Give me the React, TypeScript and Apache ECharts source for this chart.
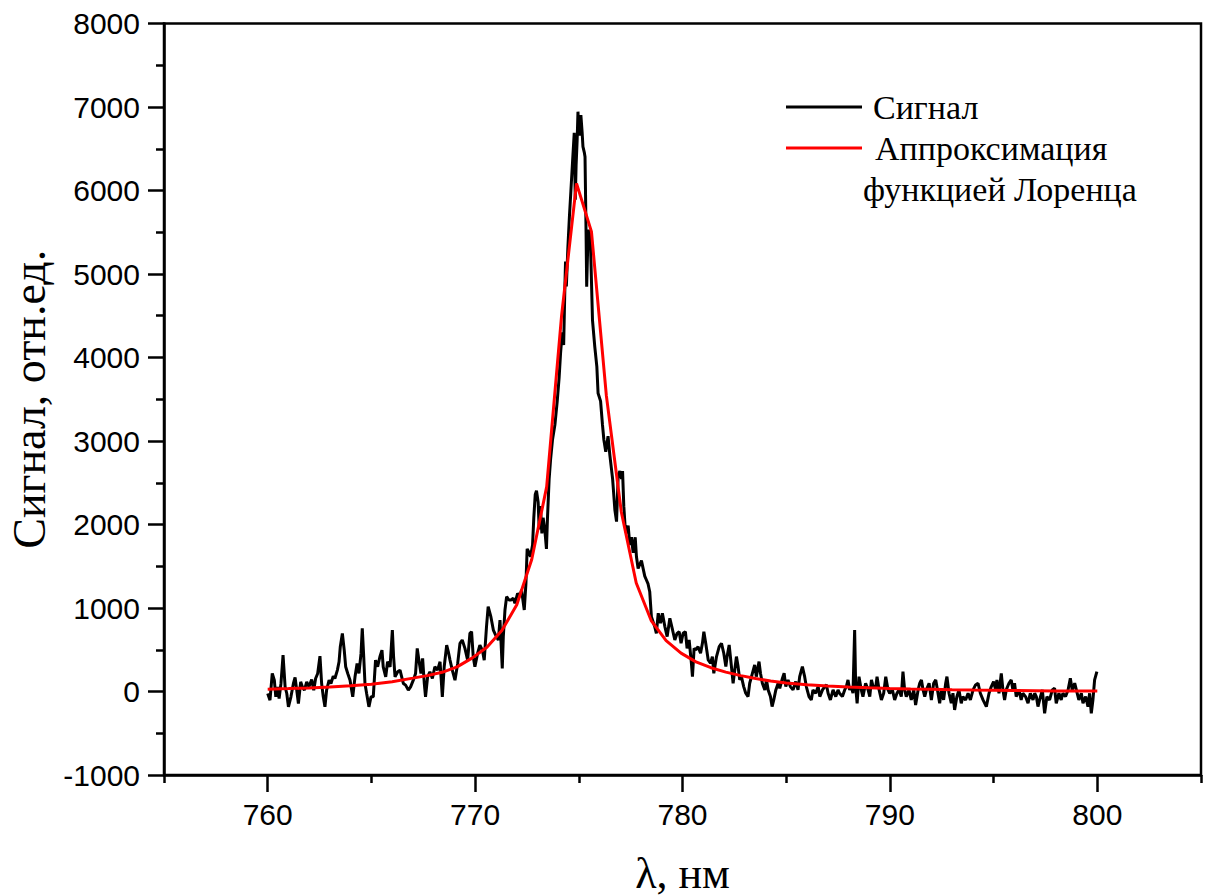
import React, { useEffect, useRef } from "react";
import * as echarts from "echarts";

// Wavelength axis (nm)
const xMin = 755;
const xMax = 805;
const xMajorTicks = [760, 770, 780, 790, 800];
const xMinorTicks = [755, 765, 775, 785, 795, 805];
// Signal axis (arb. units)
const yMin = -1000;
const yMax = 8000;
const yStep = 1000;

const seriesSignalName = "Сигнал";
const seriesFitName = "Аппроксимация функцией Лоренца";

// Measured signal: [wavelength nm, signal]
const signalLeft = [
  [760.0, -24], [760.11, -104], [760.22, 216], [760.32, 136], [760.39, -64], [760.48, 56], [760.55, -84], [760.64, 96], [760.74, 436], [760.84, 56],
  [760.92, -24], [761.0, -184], [761.12, -64], [761.24, 96], [761.32, 168], [761.4, 16], [761.48, -144], [761.59, 116], [761.67, 56], [761.77, 16],
  [761.88, 116], [761.99, 56], [762.12, 144], [762.22, 16], [762.31, 156], [762.41, 216], [762.52, 424], [762.6, 96], [762.68, -64], [762.76, -184],
  [762.84, 16], [762.96, 136], [763.05, 96], [763.16, 184], [763.24, 156], [763.36, 256], [763.44, 356], [763.5, 536], [763.6, 696], [763.69, 496],
  [763.76, 296], [763.86, 216], [763.97, 136], [764.1, -64], [764.21, 176], [764.31, 336], [764.4, 216], [764.5, 456], [764.56, 756], [764.63, 416],
  [764.69, 96], [764.77, -24], [764.88, -184], [764.98, -64], [765.09, -64], [765.2, 376], [765.3, 296], [765.41, 416], [765.51, 496], [765.57, 296],
  [765.69, 176], [765.78, 356], [765.9, 296], [766.01, 736], [766.07, 416], [766.14, 176], [766.27, 236], [766.38, 256], [766.46, 176], [766.54, 96],
  [766.65, 76], [766.78, 16], [766.89, 56], [767.02, 136], [767.13, 216], [767.21, 516], [767.29, 376], [767.39, 216], [767.47, 396], [767.55, 96],
  [767.61, -64], [767.71, 176], [767.82, 236], [767.94, 156], [768.06, 296], [768.19, 256], [768.31, 356], [768.42, -64], [768.51, 296], [768.63, 556],
  [768.71, 476], [768.79, 376], [768.9, 256], [769.03, 136], [769.16, 336], [769.27, 576], [769.38, 616], [769.51, 516], [769.64, 376], [769.75, 696],
  [769.83, 716], [769.91, 416], [769.99, 296], [770.12, 456], [770.23, 556], [770.35, 496], [770.44, 376], [770.55, 776], [770.63, 1016], [770.76, 896],
  [770.88, 736], [770.99, 676], [771.12, 616], [771.2, 856], [771.31, 276], [771.36, 656], [771.44, 976], [771.52, 1136], [771.63, 1096], [771.73, 1096],
  [771.84, 1116], [771.92, 1056], [772.05, 1176], [772.16, 1136], [772.24, 1216], [772.37, 976],
];

const signalPeak = [
  [772.45, 1288], [772.51, 1708], [772.61, 1661], [772.67, 1614], [772.77, 1754], [772.83, 2080], [772.9, 2360], [772.96, 2406], [773.04, 2267], [773.09, 1941],
  [773.15, 2220], [773.22, 1894], [773.28, 2080], [773.36, 1941], [773.44, 1708], [773.49, 2080], [773.57, 2546], [773.64, 2779], [773.73, 3012], [773.85, 3198],
  [773.96, 3478], [774.05, 3757], [774.12, 4050], [774.2, 4300], [774.27, 4150], [774.33, 4850], [774.36, 5150], [774.4, 4850], [774.47, 5300], [774.55, 5700],
  [774.62, 6000], [774.7, 6350], [774.78, 6690], [774.83, 5890], [774.87, 6300], [774.92, 6600], [774.96, 6944], [775.0, 6700], [775.04, 6660], [775.07, 6850],
  [775.1, 6904], [775.16, 6700], [775.2, 6525], [775.27, 6450], [775.3, 6405], [775.35, 5500], [775.38, 4848], [775.45, 5527], [775.55, 5487], [775.66, 4449],
  [775.77, 4130], [775.87, 3890], [775.93, 3571], [776.05, 3478], [776.14, 3198], [776.21, 3012], [776.3, 2872], [776.41, 3058], [776.5, 2825], [776.63, 2546],
  [776.74, 2173], [776.82, 2034], [776.9, 2593], [776.98, 2639], [777.06, 2546], [777.11, 2639], [777.17, 2220], [777.23, 1987], [777.3, 1894], [777.38, 1987],
  [777.46, 1754], [777.54, 1847], [777.62, 1661], [777.72, 1847], [777.78, 1614], [777.86, 1474], [777.94, 1521], [778.02, 1568], [778.1, 1474], [778.18, 1381],
  [778.26, 1335], [778.34, 1288], [778.42, 1195],
];

const signalRight = [
  [778.5, 896], [778.66, 777], [778.74, 697], [778.83, 937], [778.94, 817], [779.03, 937], [779.15, 777], [779.26, 657], [779.39, 877], [779.52, 737],
  [779.63, 617], [779.74, 697], [779.84, 717], [779.93, 577], [780.03, 697], [780.14, 717], [780.22, 517], [780.32, 617], [780.43, 338], [780.48, 178],
  [780.56, 517], [780.64, 497], [780.75, 537], [780.87, 458], [780.96, 577], [781.03, 717], [781.12, 577], [781.24, 378], [781.35, 338], [781.44, 418],
  [781.51, 218], [781.64, 418], [781.77, 537], [781.88, 577], [781.99, 458], [782.09, 298], [782.15, 418], [782.25, 557], [782.36, 298], [782.44, 99],
  [782.52, 258], [782.6, 418], [782.68, 298], [782.76, 139], [782.84, 178], [782.95, 59], [783.05, -21], [783.16, -61], [783.24, 99], [783.37, 218],
  [783.48, 318], [783.56, 178], [783.69, 358], [783.76, 218], [783.85, 99], [783.97, 19], [784.05, 139], [784.13, 19], [784.24, -61], [784.32, -181],
  [784.4, -101], [784.5, 19], [784.61, 99], [784.69, 39], [784.82, 159], [784.9, 218], [784.98, 59], [785.09, 139], [785.2, 59], [785.33, 19],
  [785.46, 119], [785.57, 19], [785.65, 178], [785.78, 298], [785.89, 178], [785.97, 59], [786.1, -61], [786.21, -101], [786.29, 19], [786.42, -21],
  [786.54, 59], [786.62, -61], [786.75, 19], [786.86, 59], [786.94, 79], [787.02, -21], [787.13, -101], [787.26, 19], [787.39, -61], [787.5, 19],
  [787.57, -21], [787.71, -61], [787.82, 19], [787.9, 59], [787.98, 139], [788.06, 19], [788.14, 59], [788.22, -21], [788.3, 737], [788.35, 59],
  [788.42, -141], [788.51, 178], [788.62, 19], [788.7, -61], [788.83, 99], [788.95, 19], [789.03, -61], [789.11, 139], [789.19, 59], [789.32, 59],
  [789.38, 178], [789.48, 19], [789.59, -101], [789.7, -21], [789.8, 178], [789.91, 19], [789.99, -21], [790.12, 19], [790.23, -101], [790.34, -21],
  [790.44, 19], [790.55, -61], [790.63, 238], [790.71, 19], [790.79, -61], [790.92, 19], [791.03, -101], [791.15, 19], [791.24, -161], [791.36, 19],
  [791.44, 99], [791.52, 139], [791.6, 19], [791.68, -61], [791.76, 19], [791.89, 99], [792.0, -101], [792.11, 99], [792.21, 139], [792.32, -21],
  [792.4, -141], [792.48, 19], [792.59, -101], [792.69, 99], [792.75, 178], [792.85, -21], [792.96, -141], [793.04, -21], [793.12, -221], [793.23, -61],
  [793.33, 19], [793.44, -141], [793.52, -61], [793.65, -101], [793.77, -21], [793.88, -101], [794.01, 19], [794.13, 79], [794.25, 99], [794.36, -21],
  [794.49, -101], [794.65, -181], [794.78, -21], [794.89, 59], [795.0, 119], [795.1, 19], [795.16, 139], [795.26, -21], [795.37, 218], [795.45, 19],
  [795.53, -101], [795.61, 19], [795.74, 99], [795.85, 139], [795.93, 19], [796.01, 99], [796.09, -61], [796.22, 19], [796.33, -101], [796.41, -21],
  [796.54, -61], [796.66, -141], [796.77, -21], [796.9, -101], [796.98, -21], [797.06, -61], [797.14, -181], [797.22, -101], [797.35, 19], [797.46, -261],
  [797.57, -61], [797.7, -101], [797.83, 19], [797.94, 39], [798.02, -141], [798.15, -21], [798.26, -101], [798.34, -21], [798.47, -61], [798.59, 19],
  [798.7, 159], [798.79, 19], [798.91, 99], [798.99, 19], [799.11, -101], [799.23, -21], [799.31, -141], [799.44, -61], [799.55, -181], [799.63, -21],
  [799.71, -261], [799.79, -101], [799.87, 139], [799.98, 238],
];

// Lorentz fit curve as drawn: [wavelength nm, value]
const fitCurve = [
  [760, 28], [761, 35], [762, 43], [763, 53], [764, 68], [765, 88], [766, 118], [767, 160],
  [767.69, 190], [768.41, 230], [769.13, 295], [769.85, 400], [770.57, 530], [771.29, 730],
  [772.01, 1040], [772.73, 1580], [773.45, 2450], [774.17, 4500], [774.89, 6086], [775.61, 5508],
  [776.33, 3540], [777.05, 2150], [777.77, 1300], [778.49, 850], [779.21, 610], [779.93, 460],
  [780.65, 355], [781.37, 285], [782.09, 232], [782.81, 190], [783.53, 155], [784.25, 125],
  [785, 102], [786, 82], [787, 66], [788, 55], [789, 45], [790, 37], [791, 31], [792, 26],
  [793, 21], [794, 17], [795, 14], [796, 11], [797, 9], [798, 7], [799, 6], [800, 5],
];

const SANS = "'Liberation Sans', Arial, sans-serif";
const SERIF = "'Liberation Serif', 'Times New Roman', serif";

export default function App() {
  const ref = useRef<HTMLDivElement>(null);

  useEffect(() => {
    if (!ref.current) return;
    const chart = echarts.init(ref.current, undefined, { renderer: "svg" });
    const signal = [...signalLeft, ...signalPeak, ...signalRight];
    const tickStyle = { color: "#000", width: 2.5 };

    chart.setOption({
      animation: false,
      backgroundColor: "#fff",
      grid: {
        left: 164,
        right: 4,
        top: 23.5,
        bottom: 121,
        show: true,
        borderColor: "#000",
        borderWidth: 2.5,
        containLabel: false,
        outerBoundsMode: "none",
      },
      xAxis: [
        {
          type: "value",
          min: xMin,
          max: xMax,
          interval: 5,
          position: "bottom",
          name: "λ, нм",
          nameLocation: "middle",
          nameGap: 76,
          nameTextStyle: { fontFamily: SERIF, fontSize: 44, color: "#000" },
          axisLine: { show: true, onZero: false, lineStyle: tickStyle },
          axisTick: {
            show: true,
            inside: false,
            length: 17,
            customValues: xMajorTicks,
            lineStyle: tickStyle,
          },
          axisLabel: {
            show: true,
            customValues: xMajorTicks,
            margin: 24,
            fontFamily: SANS,
            fontSize: 30,
            color: "#000",
            formatter: (v: number) => String(v),
          },
          splitLine: { show: false },
        },
        {
          type: "value",
          min: xMin,
          max: xMax,
          interval: 5,
          position: "bottom",
          axisLine: { show: false, onZero: false },
          axisTick: {
            show: true,
            inside: false,
            length: 8,
            customValues: xMinorTicks,
            lineStyle: tickStyle,
          },
          axisLabel: { show: false },
          splitLine: { show: false },
        },
      ],
      yAxis: {
        type: "value",
        min: yMin,
        max: yMax,
        interval: yStep,
        name: "Сигнал, отн.ед.",
        nameLocation: "middle",
        nameGap: 112,
        nameTextStyle: { fontFamily: SERIF, fontSize: 46, color: "#000" },
        axisLine: { show: true, onZero: false, lineStyle: tickStyle },
        axisTick: {
          show: true,
          inside: false,
          length: 16,
          lineStyle: tickStyle,
        },
        minorTick: {
          show: true,
          splitNumber: 2,
          length: 8,
          lineStyle: tickStyle,
        },
        axisLabel: {
          margin: 24,
          fontFamily: SANS,
          fontSize: 30,
          color: "#000",
          formatter: (v: number) => String(v),
        },
        splitLine: { show: false },
        minorSplitLine: { show: false },
      },
      series: [
        {
          name: seriesSignalName,
          type: "line",
          data: signal,
          showSymbol: false,
          symbol: "none",
          lineStyle: { color: "#000", width: 3 },
          z: 2,
        },
        {
          name: seriesFitName,
          type: "line",
          data: fitCurve,
          showSymbol: false,
          symbol: "none",
          lineStyle: { color: "#ff0000", width: 3 },
          z: 3,
        },
      ],
      graphic: [
        {
          type: "line",
          shape: { x1: 786, y1: 107, x2: 862, y2: 107 },
          style: { stroke: "#000", lineWidth: 3 },
        },
        {
          type: "text",
          x: 873,
          y: 107,
          style: {
            text: "Сигнал",
            font: `34px ${SERIF}`,
            fill: "#000",
            verticalAlign: "middle",
          },
        },
        {
          type: "line",
          shape: { x1: 786, y1: 148, x2: 862, y2: 148 },
          style: { stroke: "#ff0000", lineWidth: 3 },
        },
        {
          type: "text",
          x: 875,
          y: 148,
          style: {
            text: "Аппроксимация",
            font: `34px ${SERIF}`,
            fill: "#000",
            verticalAlign: "middle",
          },
        },
        {
          type: "text",
          x: 863,
          y: 189,
          style: {
            text: "функцией Лоренца",
            font: `34px ${SERIF}`,
            fill: "#000",
            verticalAlign: "middle",
          },
        },
      ],
    });

    return () => chart.dispose();
  }, []);

  return (
    <div
      ref={ref}
      style={{ position: "fixed", left: 0, top: 0, width: 1205, height: 896, background: "#fff" }}
    />
  );
}
